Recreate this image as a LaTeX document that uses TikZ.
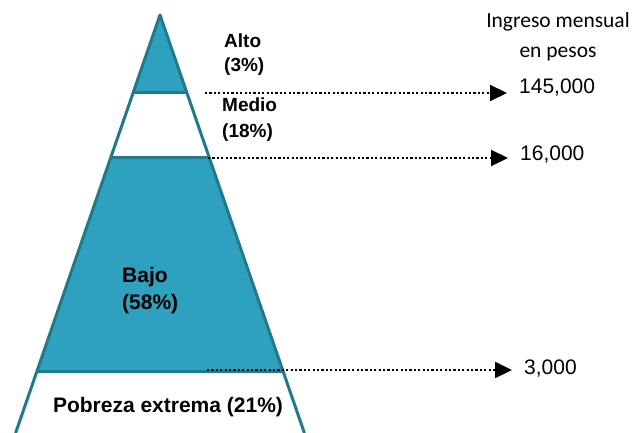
\documentclass[tikz,border=0pt]{standalone}
\usepackage{fontspec}
\setmainfont{Liberation Sans}
\newfontfamily\calib{Carlito}
\usetikzlibrary{arrows.meta}
\definecolor{tealfill}{RGB}{46,161,190}
\definecolor{tealline}{RGB}{31,122,140}
\begin{document}
\begin{tikzpicture}[x=1pt,y=-1pt,
	band/.style={fill=tealfill},
	edge/.style={draw=tealline,line width=3pt},
	arr/.style={line width=2.2pt,dash pattern=on 2.2pt off 2.2pt,
		-{Triangle[length=17pt,width=16pt,line cap=butt,line join=miter]}},
	lbl/.style={align=left,inner sep=0pt,anchor=west},
	num/.style={font=\fontsize{21}{24}\selectfont,inner ysep=0pt,inner xsep=12pt,anchor=west}]
	\useasboundingbox (0,0) rectangle (632,433);
	% pyramid
	\coordinate (top) at (160,15);
	\coordinate (l1) at (133,93);  \coordinate (r1) at (187,93);
	\coordinate (l2) at (110.6,158); \coordinate (r2) at (209.4,158);
	\coordinate (l3) at (37,371);  \coordinate (r3) at (283,371);
	\coordinate (l4) at (15.6,433); \coordinate (r4) at (304.4,433);
	\fill[band] (top)--(r1)--(l1)--cycle;
	\fill[band] (l2)--(r2)--(r3)--(l3)--cycle;
	\draw[edge] (l1)--(r1) (l2)--(r2) (l3)--(r3);
	\draw[edge,line join=round] (l4)--(top)--(r4);
	% labels
	\node[lbl,font=\bfseries\fontsize{19}{24}\selectfont] (alto) at (224,55) {Alto\\(3\%)};
	\node[lbl,font=\bfseries\fontsize{19}{26}\selectfont] (medio) at (222,120) {Medio\\(18\%)};
	\node[lbl,font=\bfseries\fontsize{21}{27}\selectfont] (bajo) at (122,291) {Bajo\\(58\%)};
	\node[font=\bfseries\fontsize{21}{24}\selectfont,inner sep=0pt] (pobreza) at (168,407) {Pobreza extrema (21\%)};
	\node[font=\calib\fontsize{21.5}{30}\selectfont,align=center,inner sep=0pt] (ingreso) at (558,37) {Ingreso mensual\\en pesos};
	% incomes
	\coordinate (a1) at (205,93);
	\coordinate (a2) at (208,158);
	\coordinate (a3) at (207,370);
	\node[num] (n145) at (507,88) {145,000};
	\node[num] (n16) at (508,155) {16,000};
	\node[num] (n3) at (512,369) {3,000};
	\draw[arr] (a1)--(a1 -| n145.west);
	\draw[arr] (a2)--(a2 -| n16.west);
	\draw[arr] (a3)--(a3 -| n3.west);
\end{tikzpicture}
\end{document}
